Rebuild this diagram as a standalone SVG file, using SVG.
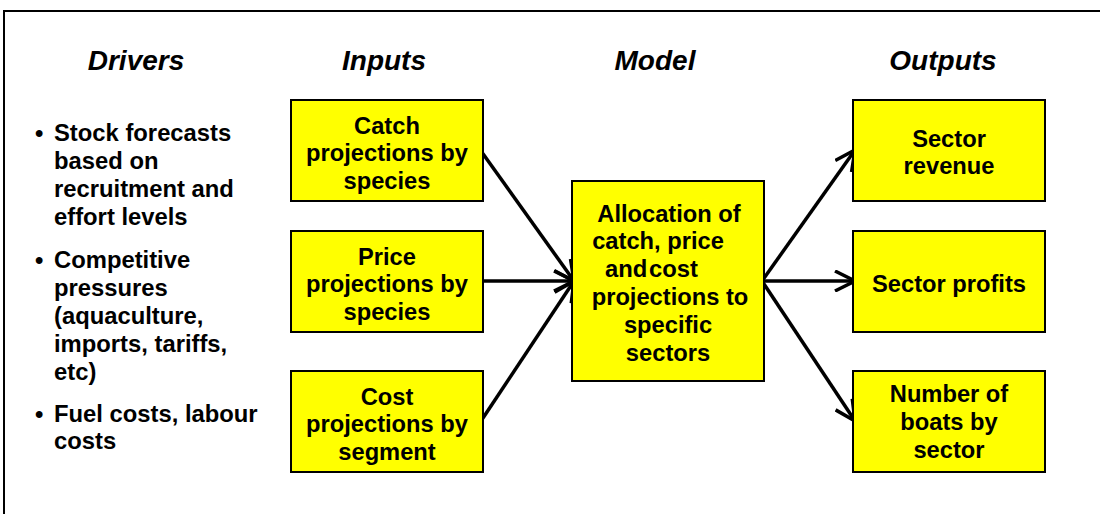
<svg xmlns="http://www.w3.org/2000/svg" width="1100" height="514" viewBox="0 0 1100 514">
<defs>
<style>
.hdr{font-family:"Liberation Sans",Arial,sans-serif;font-weight:bold;font-style:italic;font-size:28px;fill:#000;text-anchor:middle}
.bt{font-family:"Liberation Sans",Arial,sans-serif;font-weight:bold;font-size:23.8px;fill:#000}
.nt{font-family:"Liberation Sans",Arial,sans-serif;font-weight:bold;font-size:23.7px;fill:#000;text-anchor:middle}
.box{fill:#FFFF00;stroke:#000;stroke-width:2}
.con{stroke:#000;stroke-width:3.5;fill:none;marker-end:url(#ah)}
</style>
<marker id="ah" markerUnits="userSpaceOnUse" viewBox="0 0 22 22" refX="21" refY="11" markerWidth="22" markerHeight="22" orient="auto">
<path d="M1,1 L21,11 L1,21" fill="none" stroke="#000" stroke-width="3.5" stroke-linejoin="miter"/>
</marker>
</defs>
<rect x="0" y="0" width="1100" height="514" fill="#fff"/>
<path d="M4,530 L4,11 L1110,11" fill="none" stroke="#000" stroke-width="2"/>
<g id="headers">
<text class="hdr" x="136" y="70">Drivers</text>
<text class="hdr" x="384" y="70">Inputs</text>
<text class="hdr" x="655" y="70">Model</text>
<text class="hdr" x="943" y="70">Outputs</text>
</g>
<g id="drivers">
<text class="bt" x="35" y="141">•</text>
<text class="bt" x="54" y="141">Stock forecasts</text>
<text class="bt" x="54" y="169">based on</text>
<text class="bt" x="54" y="197">recruitment and</text>
<text class="bt" x="54" y="225">effort levels</text>
<text class="bt" x="35" y="268">•</text>
<text class="bt" x="54" y="268">Competitive</text>
<text class="bt" x="54" y="296">pressures</text>
<text class="bt" x="54" y="324">(aquaculture,</text>
<text class="bt" x="54" y="352">imports, tariffs,</text>
<text class="bt" x="54" y="380">etc)</text>
<text class="bt" x="35" y="422">•</text>
<text class="bt" x="54" y="422">Fuel costs, labour</text>
<text class="bt" x="54" y="449">costs</text>
</g>
<g id="connectors">
<line class="con" x1="481" y1="151" x2="574" y2="281"/>
<line class="con" x1="481" y1="281" x2="574" y2="281"/>
<line class="con" x1="481" y1="421" x2="574" y2="281"/>
<line class="con" x1="762" y1="281" x2="855" y2="150"/>
<line class="con" x1="762" y1="281" x2="855" y2="281"/>
<line class="con" x1="762" y1="281" x2="855" y2="421"/>
</g>
<g id="catch">
<rect class="box" x="291" y="100" width="192" height="101"/>
<text class="nt" x="387" y="134">Catch</text>
<text class="nt" x="387" y="161">projections by</text>
<text class="nt" x="387" y="189">species</text>
</g>
<g id="price">
<rect class="box" x="291" y="231" width="192" height="101"/>
<text class="nt" x="387" y="265">Price</text>
<text class="nt" x="387" y="292">projections by</text>
<text class="nt" x="387" y="320">species</text>
</g>
<g id="cost">
<rect class="box" x="291" y="371" width="192" height="101"/>
<text class="nt" x="387" y="405">Cost</text>
<text class="nt" x="387" y="432">projections by</text>
<text class="nt" x="387" y="460">segment</text>
</g>
<g id="model">
<rect class="box" x="572" y="181" width="192" height="200"/>
<text class="nt" x="669" y="222">Allocation of</text>
<text class="nt" x="658" y="249">catch, price</text>
<text class="bt" x="605" y="277">and</text>
<text class="bt" x="649" y="277">cost</text>
<text class="nt" x="670" y="305">projections to</text>
<text class="nt" x="668" y="333">specific</text>
<text class="nt" x="668" y="361">sectors</text>
</g>
<g id="revenue">
<rect class="box" x="853" y="100" width="192" height="101"/>
<text class="nt" x="949" y="147">Sector</text>
<text class="nt" x="949" y="174">revenue</text>
</g>
<g id="profits">
<rect class="box" x="853" y="231" width="192" height="101"/>
<text class="nt" x="949" y="292">Sector profits</text>
</g>
<g id="boats">
<rect class="box" x="853" y="371" width="192" height="101"/>
<text class="nt" x="949" y="402">Number of</text>
<text class="nt" x="949" y="430">boats by</text>
<text class="nt" x="949" y="458">sector</text>
</g>
</svg>
